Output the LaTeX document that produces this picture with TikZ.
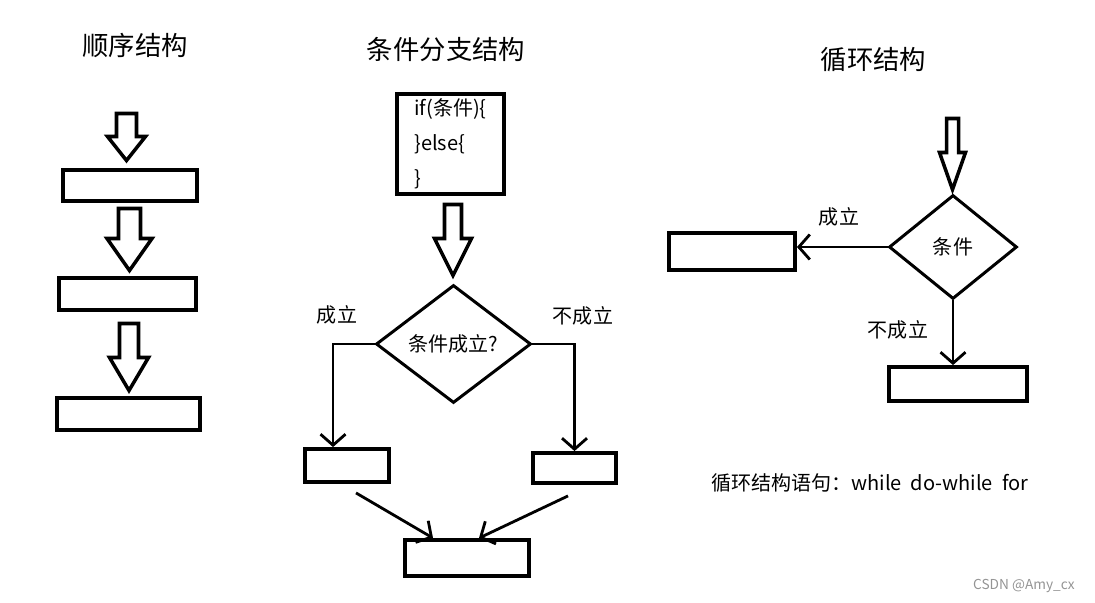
\documentclass[tikz,border=0pt]{standalone}
\usepackage{fontspec}
\setmainfont{Noto Sans CJK SC}
\usetikzlibrary{arrows.meta,shapes.geometric}
\def\fatarrow[#1](#2,#3)(#4:#5:#6:#7){\draw[#1] ({#2-#6},#3) -- ({#2+#6},#3) -- ({#2+#6},{#3+#4-#5}) -- ({#2+#7},{#3+#4-#5}) -- (#2,{#3+#4}) -- ({#2-#7},{#3+#4-#5}) -- ({#2-#6},{#3+#4-#5}) -- cycle;}
\tikzset{
	box/.style={draw, line width=2.2pt, inner sep=0pt},
	decision/.style={draw, diamond, line width=1.7pt, inner sep=0pt, font=\fontsize{11.4}{14}\selectfont},
	flow/.style={line width=1.6pt, -{Straight Barb[length=0.22cm,width=0.5cm]}},
	fat/.style={line width=2pt, line join=miter},
	heading/.style={font=\fontsize{15}{18}\selectfont},
	lbl/.style={font=\fontsize{11.4}{14}\selectfont}
}
\begin{document}
\begin{tikzpicture}[x=0.02cm, y=-0.02cm]
	%%%%% START %%%%%
	\useasboundingbox (0,0) rectangle (1095,602);
	
	% sequence
	\node[heading] (t1) at (135,45) {顺序结构};
	\fatarrow[fat](126.5,113.5)(47:24:10:19)
	\node[box, minimum width=2.68cm, minimum height=0.62cm] (s1) at (130,185.5) {};
	\fatarrow[fat](129.5,208.5)(62:32:11:22.5)
	\node[box, minimum width=2.74cm, minimum height=0.64cm] (s2) at (127.5,294) {};
	\fatarrow[fat](129,323.5)(67:33:9.5:19.5)
	\node[box, minimum width=2.86cm, minimum height=0.64cm] (s3) at (128.5,414) {};
	
	% branch
	\node[heading] (t2) at (446,49) {条件分支结构};
	\node[box, minimum width=2.14cm, minimum height=2cm, align=left, font=\fontsize{11.4}{19.9}\selectfont] (code) at (450.5,144) {if(条件)\{\\\}else\{\\\}};
	\fatarrow[fat](453,204.5)(71:37:8.5:18.5)
	\node[decision, minimum width=3.1cm, minimum height=2.36cm] (d1) at (453.5,344) {条件成立?};
	\node[box, minimum width=1.68cm, minimum height=0.66cm] (b1) at (347,465.5) {};
	\node[box, minimum width=1.66cm, minimum height=0.6cm] (b2) at (574.5,468) {};
	\node[box, minimum width=2.48cm, minimum height=0.72cm] (b3) at (467,558) {};
	\node[lbl] (yes1) at (337,315) {成立};
	\node[lbl] (no1) at (583,316) {不成立};
	\draw[flow] (d1.west) -| ([xshift=-0.28cm]b1.north);
	\draw[flow] (d1.east) -| (b2.north);
	\draw[flow] ([xshift=0.18cm,yshift=-0.18cm]b1.south) -- ([xshift=-0.68cm]b3.north);
	\draw[flow] ([xshift=-0.13cm,yshift=-0.22cm]b2.south) -- ([xshift=0.24cm]b3.north);
	
	% loop
	\node[heading] (t3) at (873.5,60) {循环结构};
	\fatarrow[fat](952.5,118.5)(71:37:6:13)
	\node[decision, minimum width=2.56cm, minimum height=2.08cm] (d2) at (953,247) {条件};
	\node[box, minimum width=2.52cm, minimum height=0.74cm] (l1) at (732,251.5) {};
	\node[box, minimum width=2.76cm, minimum height=0.68cm] (l2) at (958,384) {};
	\node[lbl] (yes2) at (839,217) {成立};
	\node[lbl] (no2) at (898,330) {不成立};
	\draw[flow] (d2.west) -- (d2.west -| l1.east);
	\draw[flow] (d2.south) -- (d2.south |- l2.north);
	
	\node[lbl, anchor=west] (kw) at (705,483) {循环结构语句：while~~do-while~~for};
	\node[anchor=east, text=black!42, font=\fontsize{7.8}{9}\selectfont] (mark) at (1081,586) {CSDN @Amy\_cx};
	%%%%% END %%%%%
\end{tikzpicture}
\end{document}
